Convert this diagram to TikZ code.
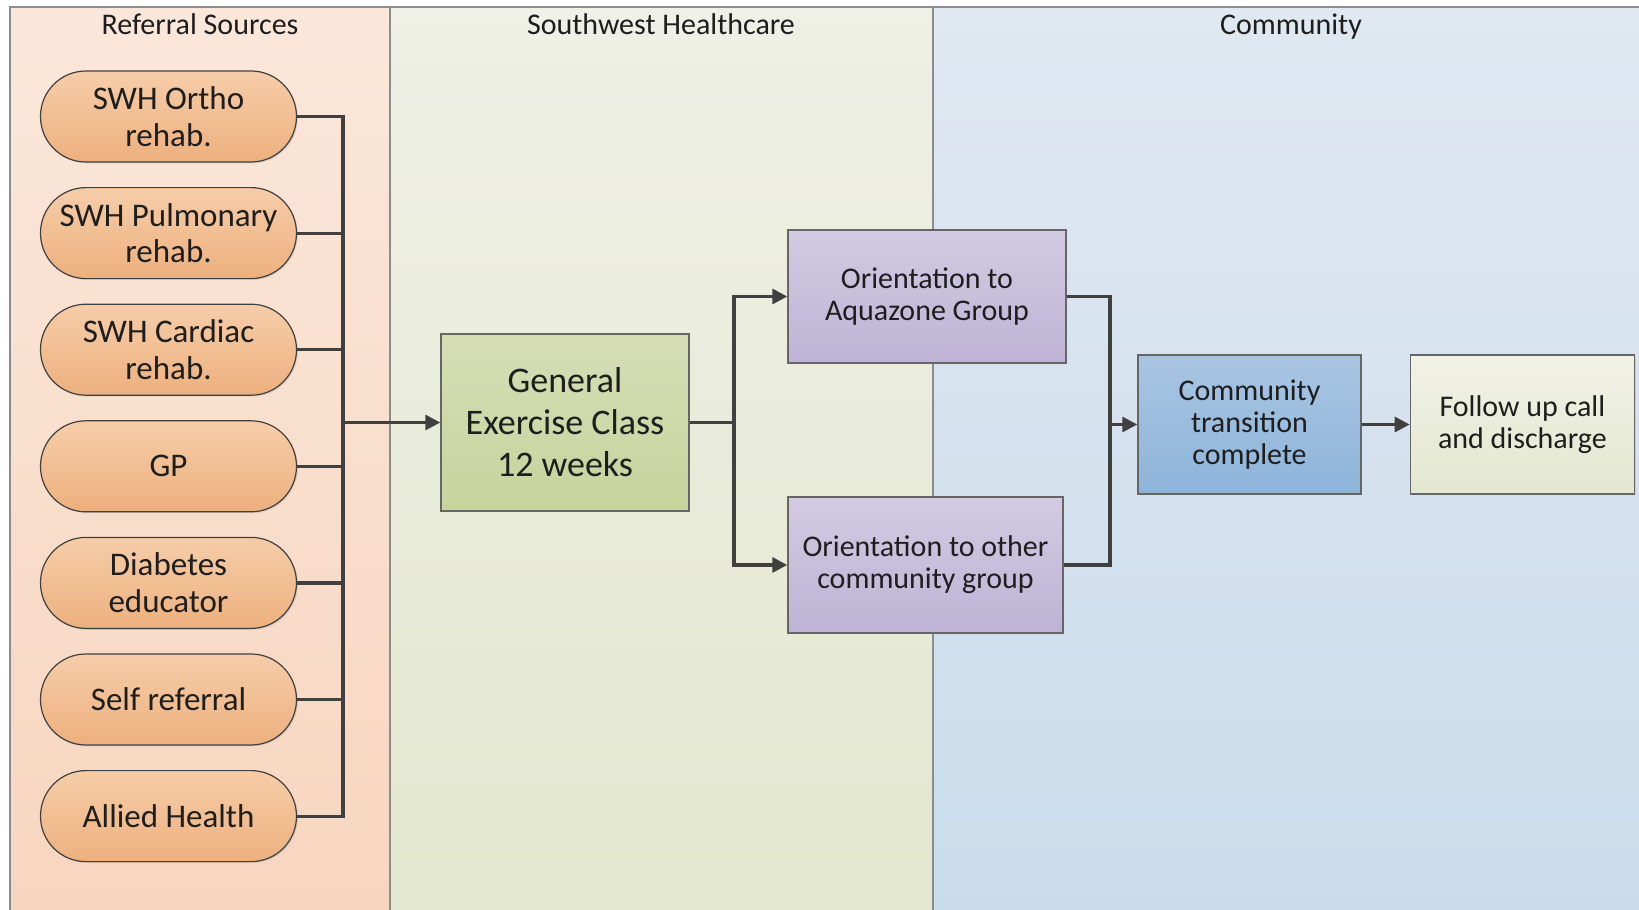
\documentclass[tikz,border=0pt]{standalone}
\usepackage{fontspec}
\setmainfont{Carlito}
\usetikzlibrary{positioning,arrows.meta,shadows}

\definecolor{laneAtop}{HTML}{FBE7DA}
\definecolor{laneAbot}{HTML}{F7D6C0}
\definecolor{laneBtop}{HTML}{EFF0E6}
\definecolor{laneBbot}{HTML}{E3E7CE}
\definecolor{laneCtop}{HTML}{E0E8F1}
\definecolor{laneCbot}{HTML}{CADCEC}
\definecolor{pillTop}{HTML}{F6CDA9}
\definecolor{pillBot}{HTML}{EDB07E}
\definecolor{greenTop}{HTML}{D6DDB6}
\definecolor{greenBot}{HTML}{C8D39D}
\definecolor{lilacTop}{HTML}{D2CBE2}
\definecolor{lilacBot}{HTML}{BEB3D5}
\definecolor{blueTop}{HTML}{A9C5E2}
\definecolor{blueBot}{HTML}{8EB4DA}
\definecolor{creamTop}{HTML}{F1F2E6}
\definecolor{creamBot}{HTML}{E3E7CF}
\definecolor{wire}{HTML}{404040}
\definecolor{txt}{HTML}{1E1E1E}

\begin{document}
\begin{tikzpicture}[x=0.5pt,y=-0.5pt]
\tikzstyle{lane}=[draw=black!45, line width=0.6pt]
\tikzstyle{header}=[text=txt, text height=1.5ex, text depth=0.3ex, font=\fontsize{15}{16}\selectfont]
\tikzstyle{source}=[rectangle, rounded corners=22.7pt, draw=black!75, line width=0.6pt, top color=pillTop, bottom color=pillBot, minimum width=128pt, minimum height=45.5pt, inner sep=0pt, align=center, text=txt, font=\fontsize{16.5}{18.3}\selectfont, node distance=12.2pt, drop shadow={shadow xshift=0.7pt, shadow yshift=-0.7pt, opacity=0.2}]
\tikzstyle{stage}=[rectangle, draw=black!60, line width=0.7pt, inner sep=2pt, align=center, text=txt, font=\fontsize{15}{16}\selectfont, node distance=24pt, drop shadow={shadow xshift=0.7pt, shadow yshift=-0.7pt, opacity=0.2}]
\tikzstyle{link}=[draw=wire, line width=1.6pt]
\tikzstyle{connect}=[link, -{Triangle[length=7.5pt,width=7.5pt]}]

\useasboundingbox (0,0) rectangle (1639,910);

% 1. Lanes
%%%%%%%%%
\shade[top color=laneAtop, bottom color=laneAbot] (10,7) rectangle (390,910);
\shade[top color=laneBtop, bottom color=laneBbot] (390,7) rectangle (933,910);
\shade[top color=laneCtop, bottom color=laneCbot] (933,7) rectangle (1639,910);
\draw[lane] (10,910) -- (10,7) -- (1639,7);
\draw[lane] (390,7) -- (390,910);
\draw[lane] (933,7) -- (933,910);

\node[header] (hdrref) at (200,29) {Referral Sources};
\node[header] (hdrswh) at (661,29) {Southwest Healthcare};
\node[header] (hdrcom) at (1291,29) {Community};

% 2. Nodes
%%%%%%%%%%
\node[source] (ortho) at (168.5,116.5) {SWH Ortho\\rehab.};
\node[source] (pulm) [below=of ortho] {SWH Pulmonary\\rehab.};
\node[source] (cardiac) [below=of pulm] {SWH Cardiac\\rehab.};
\node[source] (gp) [below=of cardiac] {GP};
\node[source] (diab) [below=of gp] {Diabetes\\educator};
\node[source] (self) [below=of diab] {Self referral};
\node[source] (allied) [below=of self] {Allied Health};

\node[stage, top color=greenTop, bottom color=greenBot, minimum width=124pt, minimum height=88.5pt, font=\fontsize{18}{21}\selectfont] (general) at (565,422.5) {General\\Exercise Class\\12 weeks};
\node[stage, top color=lilacTop, bottom color=lilacBot, minimum width=139pt, minimum height=66.5pt] (aqua) at (927,296.5) {Orientation to\\Aquazone Group};
\node[stage, top color=lilacTop, bottom color=lilacBot, minimum width=137.5pt, minimum height=68pt] (other) at (925.5,565) {Orientation to other\\community group};
\node[stage, top color=blueTop, bottom color=blueBot, minimum width=111.5pt, minimum height=69.5pt] (transition) at (1249.5,424.5) {Community\\transition\\complete};
\node[stage, top color=creamTop, bottom color=creamBot, minimum width=112pt, minimum height=69.5pt] (followup) [right=of transition] {Follow up call\\and discharge};

\coordinate (bus) at (343,422.5);
\coordinate (split) at (734,422.5);
\coordinate (merge) at (1110,424.5);

% 3. Arrows
%%%%%%%%%%%
\foreach \src in {ortho,pulm,cardiac,gp,diab,self,allied}
  \draw[link] (\src.east) -| (bus);
\draw[connect] (bus) -- (general.west);

\draw[link] (general.east) -- (split);
\draw[connect] (split) |- (aqua.west);
\draw[connect] (split) |- (other.west);

\draw[link] (aqua.east) -| (merge);
\draw[link] (other.east) -| (merge);
\path (merge)      edge [connect] (transition.west)
      (transition) edge [connect] (followup);

\end{tikzpicture}
\end{document}
